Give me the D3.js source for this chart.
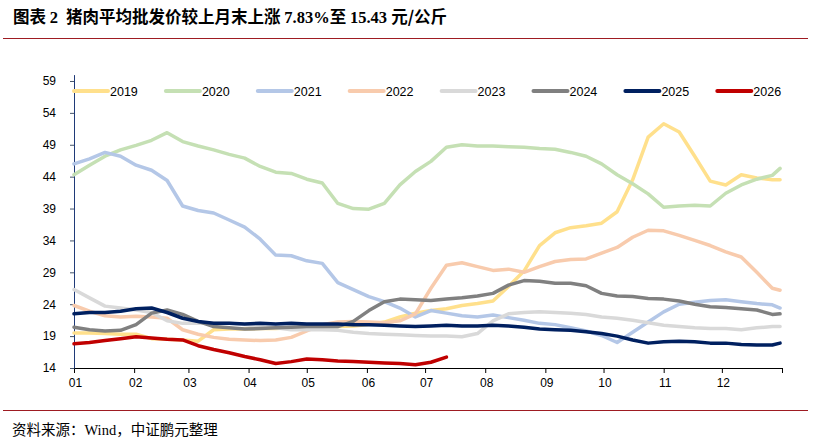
<!DOCTYPE html>
<html>
<head>
<meta charset="utf-8">
<script src="https://cdn.jsdelivr.net/npm/d3@7"></script>
<style>
  body { margin: 0; background: #fff; }
  svg { display: block; }
  .title { font-family: "Noto Sans CJK SC", sans-serif; font-weight: bold; font-size: 16.5px; fill: #000; }
  .title .num { font-family: "Liberation Serif", serif; font-weight: bold; }
  .source { font-family: "Noto Sans CJK SC", sans-serif; font-size: 14.5px; fill: #000; }
  .source .num { font-family: "Liberation Serif", serif; }
  .axis text { font-family: "Liberation Sans", Arial, sans-serif; font-size: 12px; fill: #000; }
  .legend text { font-family: "Liberation Sans", Arial, sans-serif; font-size: 12.5px; fill: #000; }
</style>
</head>
<body>
<div id="chart"></div>
<script>
// day of year for every sample (shared by all years)
const days = [0, 8, 16, 24, 32, 40, 48, 56, 64, 72, 80, 88, 96, 104, 112, 120, 128, 136, 144, 152,
  160, 168, 176, 184, 192, 200, 208, 216, 224, 232, 240, 248, 256, 264, 272, 280, 288, 296, 304,
  312, 320, 328, 336, 344, 352, 360, 364];

const years = ['2019', '2020', '2021', '2022', '2023', '2024', '2025', '2026'];

// yuan / kg
const s2019 = [19.5, 19.5, 19.4, 19.3, 19.3, 18.6, 18.5, 18.4, 18.2, 20.0, 20.1, 20.1, 20.2, 20.2, 20.3, 20.4,
  20.5, 20.5, 20.6, 20.8, 21.2, 22.0, 22.6, 23.0, 23.3, 23.8, 24.1, 24.5, 26.8, 29.2, 33.2, 35.2, 36.0,
  36.3, 36.7, 38.5, 43.5, 50.2, 52.3, 51.0, 47.2, 43.3, 42.7, 44.3, 43.8, 43.5, 43.5];
const s2020 = [44.3, 45.8, 47.2, 48.2, 48.9, 49.7, 50.9, 49.5, 48.8, 48.2, 47.5, 46.9, 45.6, 44.7, 44.5, 43.6,
  43.0, 39.8, 39.0, 38.9, 39.8, 42.7, 44.8, 46.4, 48.6, 49.0, 48.8, 48.8, 48.7, 48.6, 48.4, 48.3, 47.8,
  47.2, 46.0, 44.3, 42.9, 41.3, 39.2, 39.4, 39.5, 39.4, 41.4, 42.7, 43.6, 44.2, 45.3];
const s2021 = [46.0, 46.8, 47.8, 47.2, 45.8, 45.0, 43.4, 39.4, 38.7, 38.3, 37.2, 36.1, 34.2, 31.7, 31.6, 30.8,
  30.4, 27.4, 26.3, 25.2, 24.4, 23.4, 22.0, 23.0, 22.6, 22.2, 22.0, 22.3, 21.9, 21.5, 21.0, 20.8, 20.3,
  19.8, 19.1, 18.0, 19.6, 21.2, 22.8, 24.0, 24.3, 24.6, 24.7, 24.4, 24.1, 23.9, 23.4];
const s2022 = [23.8, 22.9, 22.2, 22.0, 22.1, 22.0, 21.8, 20.0, 19.3, 18.8, 18.5, 18.4, 18.3, 18.4, 18.8, 19.8,
  20.8, 21.2, 21.3, 21.2, 21.1, 21.4, 22.5, 26.5, 30.1, 30.5, 29.9, 29.3, 29.5, 29.0, 29.9, 30.7, 31.0,
  31.1, 32.0, 32.9, 34.5, 35.6, 35.5, 34.8, 34.0, 33.2, 32.2, 31.4, 29.0, 26.5, 26.2];
const s2023 = [26.3, 25.0, 23.7, 23.4, 23.1, 22.7, 21.4, 21.0, 21.0, 21.0, 21.0, 20.8, 20.5, 20.3, 20.0, 20.0,
  20.0, 19.9, 19.6, 19.4, 19.3, 19.2, 19.1, 19.0, 19.0, 18.9, 19.4, 21.4, 22.5, 22.7, 22.8, 22.7, 22.6,
  22.4, 22.0, 21.8, 21.5, 21.1, 20.7, 20.5, 20.3, 20.2, 20.2, 20.0, 20.3, 20.5, 20.5];
const s2024 = [20.4, 20.0, 19.8, 19.9, 20.8, 22.6, 23.1, 22.4, 21.3, 20.5, 20.3, 20.1, 20.2, 20.3, 20.4, 20.5,
  20.5, 20.5, 21.3, 23.0, 24.4, 24.8, 24.7, 24.6, 24.8, 25.0, 25.3, 25.7, 27.0, 27.7, 27.6, 27.3, 27.3,
  26.9, 25.7, 25.3, 25.2, 24.9, 24.8, 24.5, 24.0, 23.6, 23.5, 23.3, 23.1, 22.4, 22.5];
const s2025 = [22.5, 22.7, 22.7, 22.9, 23.3, 23.4, 22.7, 21.8, 21.3, 21.0, 21.0, 20.9, 21.0, 20.9, 21.0, 20.9,
  20.9, 20.9, 20.8, 20.8, 20.7, 20.6, 20.5, 20.6, 20.7, 20.6, 20.6, 20.7, 20.6, 20.4, 20.1, 20.0, 19.9,
  19.7, 19.4, 19.0, 18.4, 17.9, 18.1, 18.2, 18.1, 17.9, 17.9, 17.7, 17.6, 17.6, 17.9];
const s2026 = [17.8, 18.0, 18.3, 18.6, 18.9, 18.7, 18.5, 18.4, 17.5, 16.9, 16.4, 15.8, 15.3, 14.7, 15.0, 15.4,
  15.3, 15.1, 15.0, 14.9, 14.8, 14.7, 14.5, 14.9, 15.7, null, null, null, null, null, null, null, null,
  null, null, null, null, null, null, null, null, null, null, null, null, null, null];

const series = [s2019, s2020, s2021, s2022, s2023, s2024, s2025, s2026];
const monthLabels = ['01', '02', '03', '04', '05', '06', '07', '08', '09', '10', '11', '12'];
const yTicks = [14, 19, 24, 29, 34, 39, 44, 49, 54, 59];

const colors = ['#ffe08c', '#c5e0b4', '#b4c7e7', '#f8cbad', '#d9d9d9', '#808080', '#002060', '#c00000'];

const W = 814, H = 440;
const svg = d3.select('#chart').append('svg').attr('width', W).attr('height', H);

// title + rules
const title = svg.append('text').attr('class', 'title').attr('x', 13).attr('y', 23);
title.append('tspan').text('图表 ');
title.append('tspan').attr('class', 'num').text('2');
title.append('tspan').attr('dx', 8).text('猪肉平均批发价较上月末上涨 ');
title.append('tspan').attr('class', 'num').text('7.83%');
title.append('tspan').text('至 ');
title.append('tspan').attr('class', 'num').text('15.43 ');
title.append('tspan').text('元/公斤');

svg.append('line').attr('x1', 3).attr('x2', 808).attr('y1', 38.5).attr('y2', 38.5)
  .attr('stroke', '#9e1b22').attr('stroke-width', 1);
svg.append('line').attr('x1', 3).attr('x2', 808).attr('y1', 410.5).attr('y2', 410.5)
  .attr('stroke', '#9e1b22').attr('stroke-width', 1);

const src = svg.append('text').attr('class', 'source').attr('x', 12).attr('y', 435);
src.append('tspan').text('资料来源：');
src.append('tspan').attr('class', 'num').text('Wind');
src.append('tspan').text('，中证鹏元整理');

// scales
const base = new Date(2025, 0, 1);
const x = d3.scaleTime()
  .domain([base, new Date(2026, 0, 1)])
  .range([74, 782]);
const y = d3.scaleLinear()
  .domain([14, 60])
  .range([368, 74.6]);
const toDate = d => d3.timeDay.offset(base, d);

// x axis
const monthTicks = d3.timeMonth.range(base, new Date(2026, 0, 2));
const xAxis = svg.append('g')
  .attr('class', 'axis')
  .attr('transform', 'translate(0,368)')
  .call(d3.axisBottom(x)
    .tickValues(monthTicks)
    .tickSize(5)
    .tickFormat((d, i) => monthLabels[i] || ''));
xAxis.select('.domain').attr('stroke', '#000');
xAxis.selectAll('.tick line').attr('stroke', '#000');
xAxis.selectAll('.tick text').attr('dy', 0).attr('y', 19).attr('dx', 1);

// y axis
const yAxis = svg.append('g')
  .attr('class', 'axis')
  .attr('transform', 'translate(74,0)')
  .call(d3.axisLeft(y).tickValues(yTicks).tickSize(4).tickSizeOuter(0).tickPadding(14));
yAxis.select('.domain').attr('stroke', '#1f3a78');
yAxis.selectAll('.tick line').attr('stroke', '#44546a');

// lines
const line = d3.line()
  .defined(d => d[1] !== null)
  .x(d => x(toDate(d[0])))
  .y(d => y(d[1]));

svg.append('g')
  .selectAll('path')
  .data(series)
  .enter()
  .append('path')
  .attr('d', s => line(days.map((d, i) => [d, s[i]])))
  .attr('fill', 'none')
  .attr('stroke', (s, i) => colors[i])
  .attr('stroke-width', 3.5)
  .attr('stroke-linejoin', 'round')
  .attr('stroke-linecap', 'round');

// legend
const legend = svg.append('g').attr('class', 'legend');
const item = legend.selectAll('g')
  .data(years)
  .enter()
  .append('g')
  .attr('transform', (d, i) => `translate(${74 + i * 91.9},91)`);
item.append('line')
  .attr('x1', 0).attr('x2', 34)
  .attr('stroke', (d, i) => colors[i])
  .attr('stroke-width', 4)
  .attr('stroke-linecap', 'round');
item.append('text')
  .attr('x', 36)
  .attr('y', 5)
  .text(d => d);
</script>
</body>
</html>
